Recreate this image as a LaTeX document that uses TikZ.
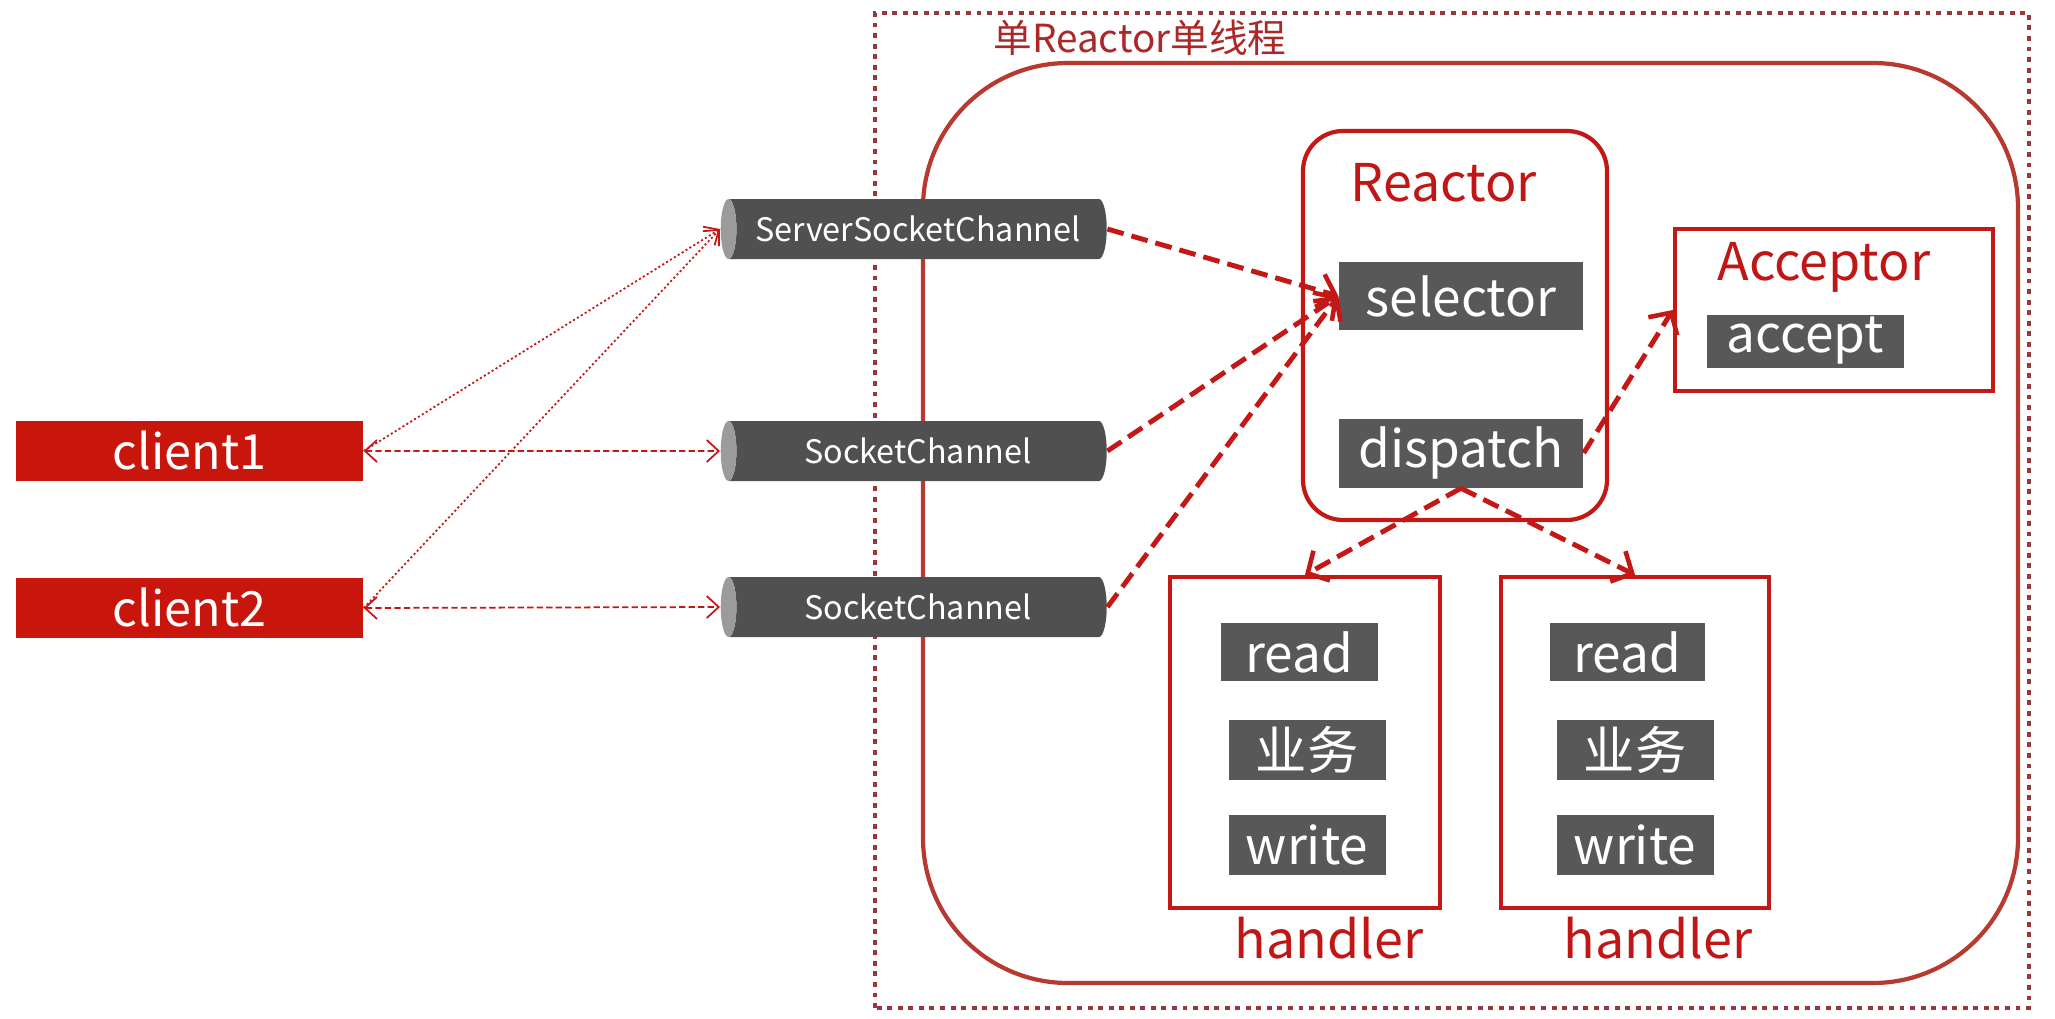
\documentclass[tikz,border=0pt]{standalone}
\usepackage{fontspec}
\setmainfont{Noto Sans CJK SC}
\usetikzlibrary{shapes.geometric,arrows.meta,positioning}

\definecolor{clientred}{RGB}{200,22,12}
\definecolor{linered}{RGB}{196,24,22}
\definecolor{textred}{RGB}{192,22,22}
\definecolor{titlered}{RGB}{172,40,40}
\definecolor{framered}{RGB}{182,58,48}
\definecolor{dotred}{RGB}{150,56,60}
\definecolor{opgray}{RGB}{88,88,88}
\definecolor{chbody}{RGB}{80,80,80}
\definecolor{chend}{RGB}{155,155,155}

\newcommand{\fsz}[1]{\fontsize{#1}{#1}\selectfont}

\begin{document}
\begin{tikzpicture}[
    op/.style={fill=opgray, text=white, inner sep=0pt, font=\fsz{14.6}},
    client/.style={fill=clientred, text=white, inner sep=0pt, minimum width=3.47cm, minimum height=0.6cm, font=\fsz{13.8}},
    chan/.style={cylinder, shape border rotate=180, aspect=0.6, cylinder uses custom fill,
      cylinder body fill=chbody, cylinder end fill=chend, inner sep=0pt,
      minimum height=3.86cm, minimum width=0.6cm, text=white, font=\fsz{9.2}},
    redbox/.style={draw=linered, line width=1.2pt, inner sep=0pt},
    lbl/.style={text=textred, font=\fsz{14.8}},
    call/.style={draw=linered, line width=1.4pt, dash pattern=on 4.8pt off 2.3pt,
      -{Straight Barb[length=1.6mm, width=3.4mm, line width=1.3pt]}},
    link/.style={draw=linered, line width=0.5pt, dash pattern=on 1.8pt off 0.9pt,
      {Straight Barb[length=1.2mm, width=2.2mm]}-{Straight Barb[length=1.2mm, width=2.2mm]}},
    hint/.style={draw=linered, line width=0.5pt, dash pattern=on 0.6pt off 0.7pt,
      -{Straight Barb[length=1.2mm, width=2.2mm]}}
  ]
  \useasboundingbox (0,0) rectangle (20.55,10.18);

  % single reactor, single thread
  \draw[dotred, line width=1.2pt, dash pattern=on 1.4pt off 1.6pt] (8.75,0.10) rectangle (20.29,10.05);
  \node[text=titlered, font=\fsz{11}] (title) at (11.40,9.80) {单Reactor单线程};
  \draw[framered, line width=1.2pt, rounded corners=1.45cm] (9.23,0.35) rectangle (20.18,9.55);

  % clients and channels
  \node[client] (client1) at (1.895,5.67) {client1};
  \node[client] (client2) at (1.895,4.10) {client2};
  \node[chan] (ssc) at (9.18,7.89) {ServerSocketChannel};
  \node[chan] (sc1) at (9.18,5.67) {SocketChannel};
  \node[chan] (sc2) at (9.18,4.11) {SocketChannel};

  % reactor
  \node[redbox, rounded corners=0.4cm, minimum width=3.04cm, minimum height=3.89cm] (reactor) at (14.55,6.925) {};
  \node[lbl] (reactorlbl) at (14.44,8.35) {Reactor};
  \node[op, minimum width=2.44cm, minimum height=0.68cm] (selector) at (14.61,7.22) {selector};
  \node[op, minimum width=2.44cm, minimum height=0.69cm] (dispatch) at (14.61,5.65) {dispatch};

  % acceptor
  \node[redbox, minimum width=3.18cm, minimum height=1.62cm] (acceptor) at (18.34,7.08) {};
  \node[lbl] (acceptorlbl) at (18.24,7.51) {Acceptor};
  \node[op, minimum width=1.97cm, minimum height=0.53cm] (accept) at (18.05,6.77) {accept};

  % handlers
  \node[redbox, minimum width=2.70cm, minimum height=3.31cm] (h1) at (13.05,2.755) {};
  \node[op, minimum width=1.57cm, minimum height=0.58cm] (read1) at (12.99,3.66) {read};
  \node[op, minimum width=1.57cm, minimum height=0.60cm] (biz1) at (13.07,2.68) {业务};
  \node[op, minimum width=1.57cm, minimum height=0.60cm] (write1) at (13.07,1.73) {write};
  \node[lbl] (h1lbl) at (13.29,0.80) {handler};

  \node[redbox, minimum width=2.68cm, minimum height=3.31cm] (h2) at (16.35,2.755) {};
  \node[op, minimum width=1.55cm, minimum height=0.58cm] (read2) at (16.27,3.66) {read};
  \node[op, minimum width=1.57cm, minimum height=0.60cm] (biz2) at (16.35,2.68) {业务};
  \node[op, minimum width=1.57cm, minimum height=0.60cm] (write2) at (16.35,1.73) {write};
  \node[lbl] (h2lbl) at (16.58,0.80) {handler};

  % connections
  \draw[link] (client1.east) -- (sc1.west);
  \draw[link] (client2.east) -- (sc2.west);
  \draw[hint] (client1.east) -- (ssc.west);
  \draw[hint] (client2.east) -- (ssc.west);

  \draw[call] (ssc.east) -- (selector.west);
  \draw[call] (sc1.east) -- (selector.west);
  \draw[call] (sc2.east) -- (selector.west);
  \draw[call] (dispatch.east) -- (acceptor.west);
  \draw[call] (dispatch.south) -- (h1.north);
  \draw[call] (dispatch.south) -- (h2.north);
\end{tikzpicture}
\end{document}
